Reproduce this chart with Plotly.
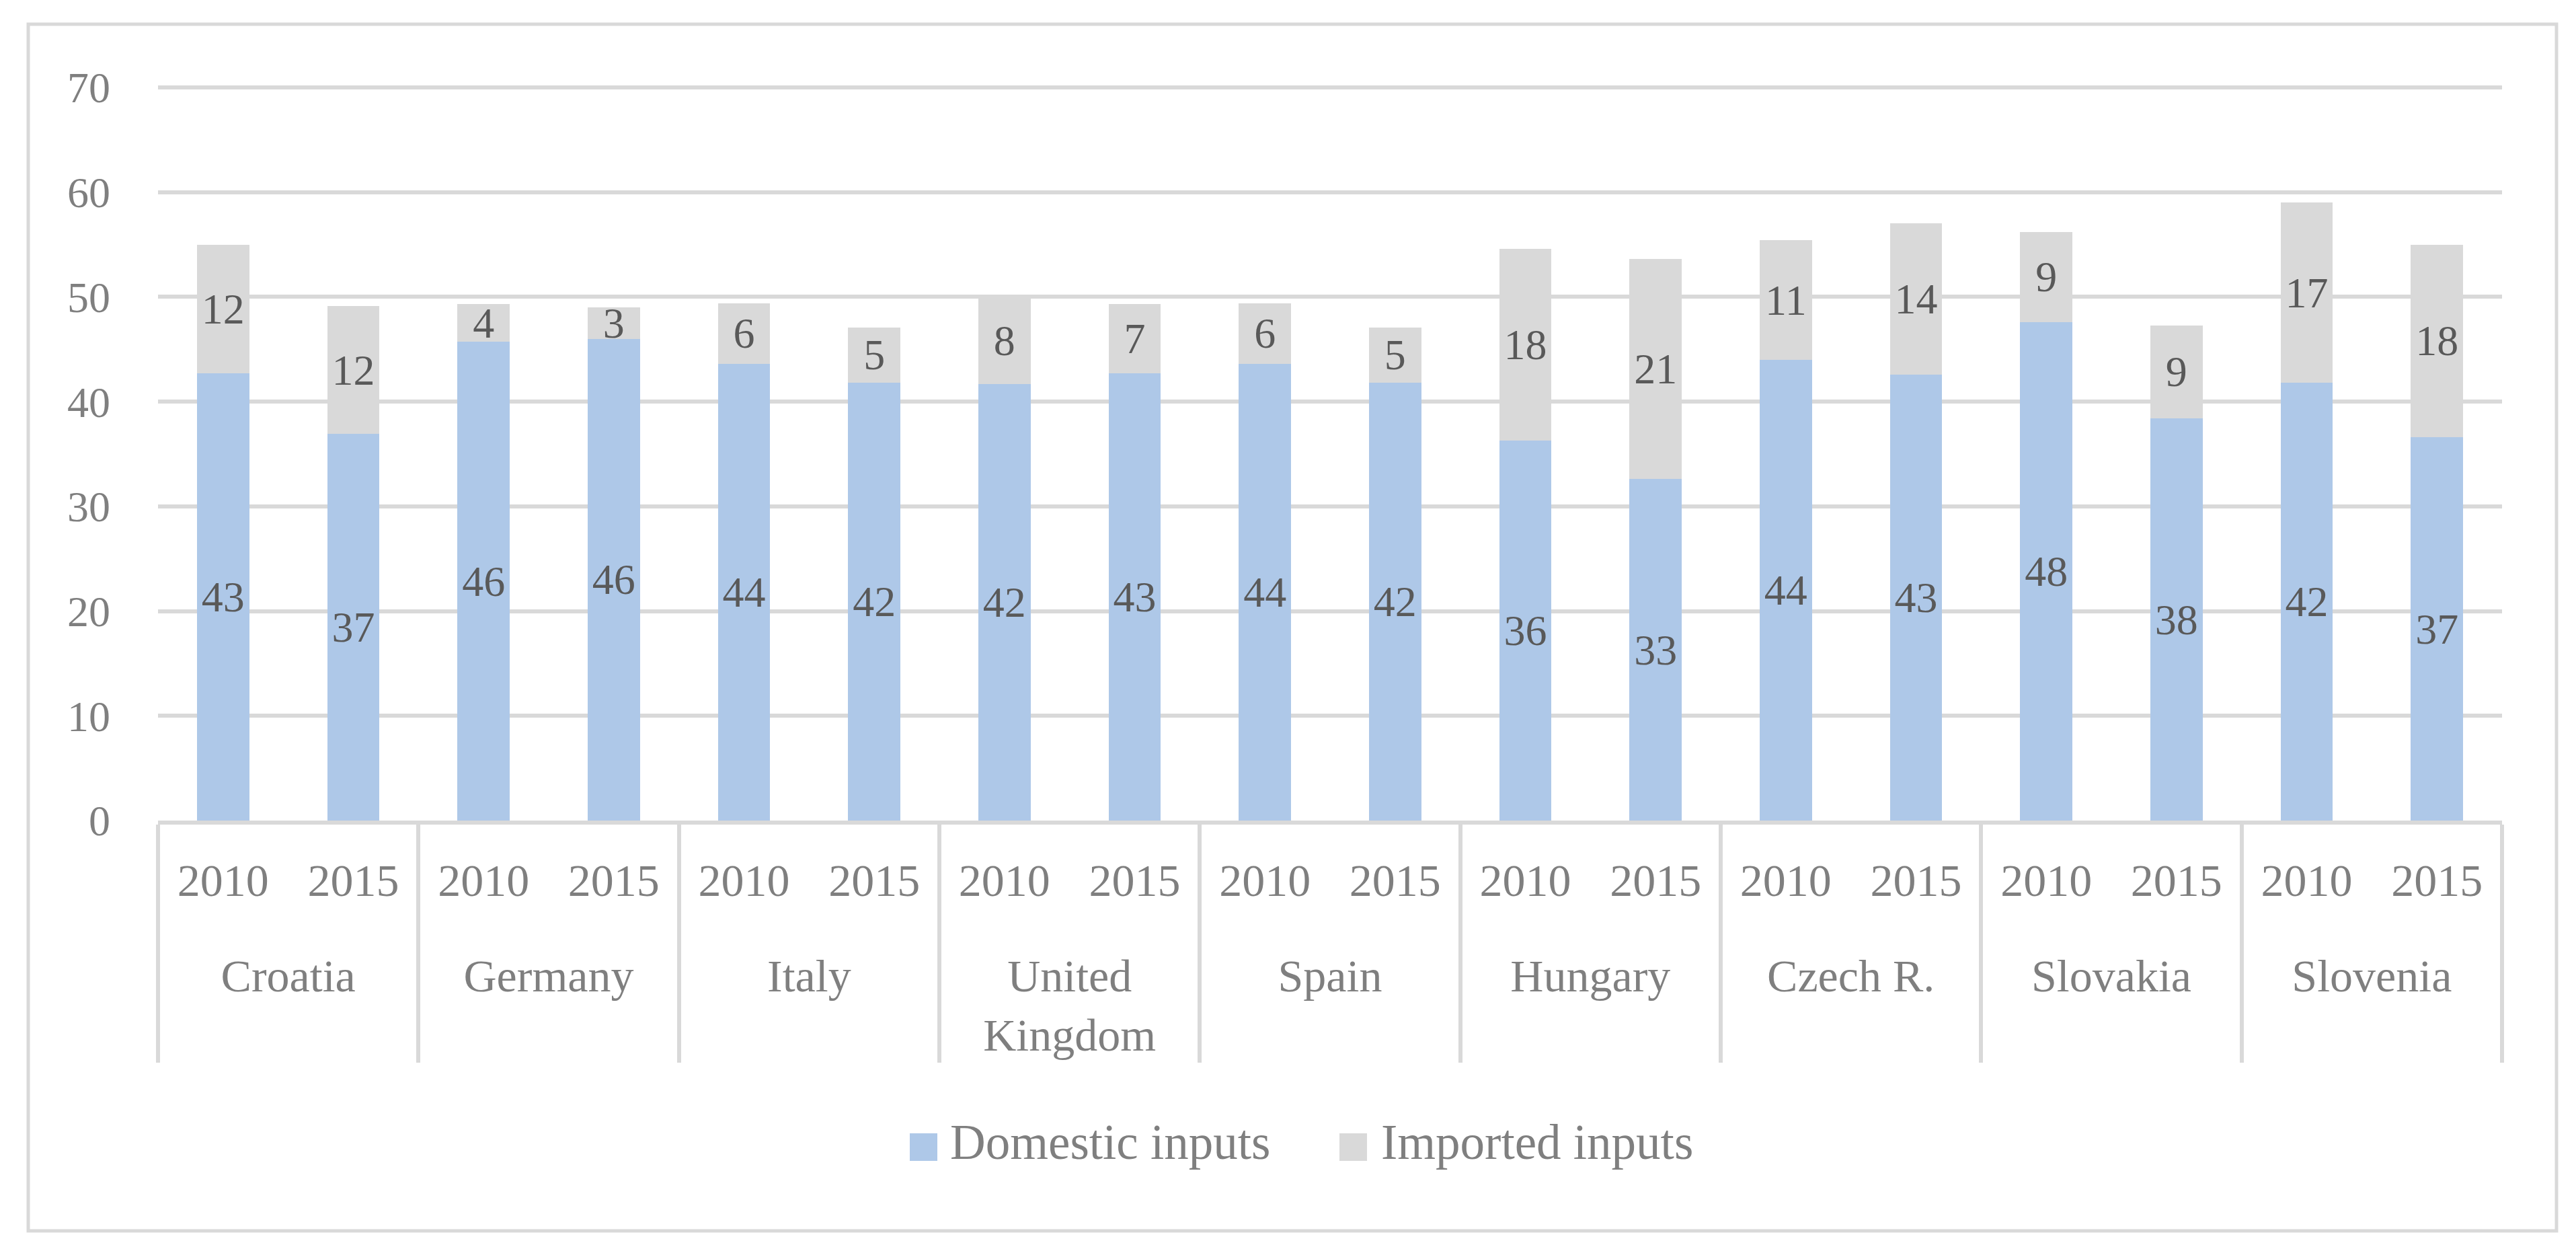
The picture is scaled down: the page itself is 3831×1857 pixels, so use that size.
import plotly.graph_objects as go

countries = ["Croatia", "Germany", "Italy", "United<br>Kingdom", "Spain",
             "Hungary", "Czech R.", "Slovakia", "Slovenia"]
years = ["2010", "2015"]
series_names = ["Domestic inputs", "Imported inputs"]

domestic = [42.7, 36.9, 45.7, 46.0, 43.6, 41.8, 41.7, 42.7, 43.6, 41.8,
            36.3, 32.6, 44.0, 42.6, 47.6, 38.4, 41.8, 36.6]
imported = [12.3, 12.2, 3.6, 3.0, 5.8, 5.3, 8.3, 6.6, 5.8, 5.3,
            18.3, 21.0, 11.4, 14.4, 8.6, 8.9, 17.2, 18.4]

# the leading line break moves the country row below the year row
x_country = ["<br>" + c for c in countries for _ in years]
x_year = [y for _ in countries for y in years]

FONT = "Liberation Serif"
AXIS_GREY = "#7f7f7f"
LABEL_GREY = "#595959"
LINE_GREY = "#d9d9d9"
COLORS = ["#aec8e8", "#d9d9d9"]

fig = go.Figure()
for name, vals, col in zip(series_names, [domestic, imported], COLORS):
    fig.add_trace(go.Bar(
        x=[x_country, x_year], y=vals, name=name, showlegend=False,
        marker=dict(color=col, line=dict(width=0)),
        texttemplate="%{y:.0f}", textposition="inside", insidetextanchor="middle",
        constraintext="none", cliponaxis=False,
        textfont=dict(family=FONT, size=64, color=LABEL_GREY), textangle=0,
    ))

L, R, T, B = 227, 118, 116, 645
W, H = 3831, 1857
pw, ph = W - L - R, H - T - B
YMAX = 70.39

def px_x(v):
    return (v - L) / pw

def px_y(v):
    return (H - B - v) / ph

# legend drawn as swatches + text (Plotly's bar legend swatch is fixed at 12px)
legend_items = [(1345, 1386, 1403), (1984, 2025, 2044)]
shapes = [dict(type="rect", xref="paper", yref="paper",
               x0=px_x(34), x1=px_x(3794), y0=px_y(1822), y1=px_y(28),
               line=dict(color=LINE_GREY, width=5), fillcolor="rgba(0,0,0,0)", layer="below")]
annotations = []
for (sx0, sx1, tx), name, col in zip(legend_items, series_names, COLORS):
    shapes.append(dict(type="rect", xref="paper", yref="paper",
                       x0=px_x(sx0), x1=px_x(sx1), y0=px_y(1718), y1=px_y(1677),
                       line=dict(width=0), fillcolor=col))
    annotations.append(dict(xref="paper", yref="paper", x=px_x(tx), y=px_y(1690),
                            xanchor="left", yanchor="middle", showarrow=False, text=name,
                            font=dict(family=FONT, size=73, color=AXIS_GREY)))

fig.update_layout(
    width=W, height=H, autosize=False,
    barmode="stack", bargap=0.6,
    paper_bgcolor="white", plot_bgcolor="white",
    margin=dict(l=L, r=R, t=T, b=B),
    font=dict(family=FONT, size=64, color=AXIS_GREY),
    showlegend=False,
    shapes=shapes, annotations=annotations,
)
fig.update_yaxes(range=[0, YMAX], tickvals=[0, 10, 20, 30, 40, 50, 60, 70],
                 showgrid=True, gridcolor=LINE_GREY, gridwidth=6,
                 zeroline=False, showline=False, ticks="", ticklabelstandoff=70,
                 tickfont=dict(family=FONT, size=64, color=AXIS_GREY))
fig.update_xaxes(type="multicategory", showline=True, linecolor=LINE_GREY, linewidth=6,
                 showdividers=True, dividercolor=LINE_GREY, dividerwidth=6,
                 ticks="", ticklabelstandoff=24,
                 tickfont=dict(family=FONT, size=68, color=AXIS_GREY))

fig.write_html("out.html")
